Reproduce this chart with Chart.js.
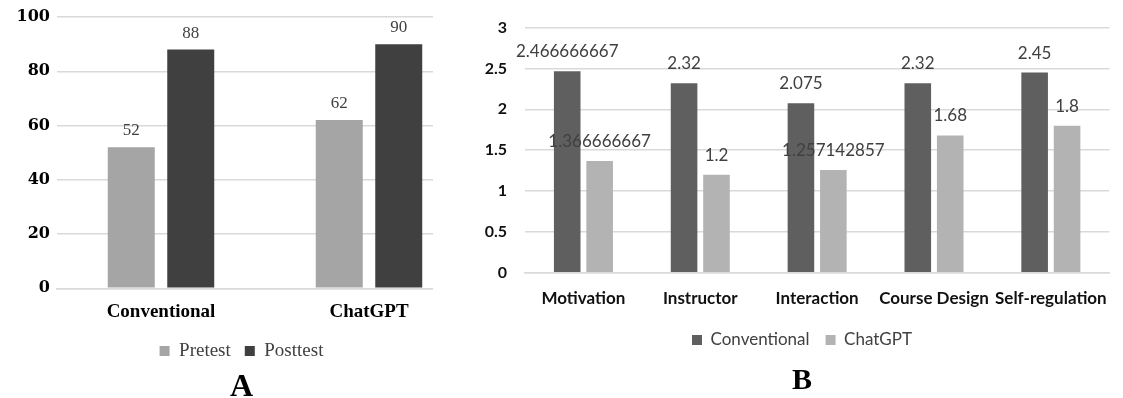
<!DOCTYPE html>
<html>
<head>
<meta charset="utf-8">
<script src="https://cdn.jsdelivr.net/npm/chart.js@4.4.0/dist/chart.umd.min.js"></script>
<style>
  html, body { margin: 0; padding: 0; background: #fff; }
  body { width: 1123px; height: 398px; position: relative; overflow: hidden; }
  #panelA { position: absolute; left: 0; top: 0; width: 499px; height: 398px; }
  #panelB { position: absolute; left: 433px; top: 0; width: 690px; height: 398px; background: #fff; }
</style>
</head>
<body>
<div id="panelA"><canvas id="chartA"></canvas></div>
<div id="panelB"><canvas id="chartB"></canvas></div>
<script>
// Panel A - pretest / posttest scores
const groupsA = ['Conventional', 'ChatGPT'];
const pretest = [52, 62];
const posttest = [88, 90];

// Panel B - mean score per dimension
const dimensions = ['Motivation', 'Instructor', 'Interaction', 'Course Design', 'Self-regulation'];
const conventional = [2.466666667, 2.32, 2.075, 2.32, 2.45];
const chatgpt = [1.366666667, 1.2, 1.257142857, 1.68, 1.8];

const gridGray = '#d9d9d9';

// draws the value above every bar
const valueLabels = {
    id: 'valueLabels',
    afterDatasetsDraw(chart, args, opts) {
        const ctx = chart.ctx;
        ctx.save();
        ctx.font = opts.font;
        ctx.fillStyle = opts.color;
        ctx.textAlign = 'center';
        ctx.textBaseline = 'alphabetic';
        chart.data.datasets.forEach((ds, i) => {
            chart.getDatasetMeta(i).data.forEach((bar, j) => {
                ctx.fillText(String(ds.data[j]), bar.x, bar.y - opts.offset);
            });
        });
        ctx.restore();
    }
};

new Chart(document.getElementById('chartA'), {
    type: 'bar',
    data: {
        labels: groupsA,
        datasets: [{
            label: 'Pretest',
            data: pretest,
            backgroundColor: '#a5a5a5',
            categoryPercentage: 0.572,
            barPercentage: 0.79
        }, {
            label: 'Posttest',
            data: posttest,
            backgroundColor: '#404040',
            categoryPercentage: 0.572,
            barPercentage: 0.79
        }]
    },
    plugins: [valueLabels],
    options: {
        responsive: true,
        maintainAspectRatio: false,
        animation: false,
        layout: { padding: { top: 17, left: 10, right: 26, bottom: 0 } },
        plugins: {
            tooltip: { enabled: false },
            valueLabels: { font: '17px "Liberation Serif"', color: '#404040', offset: 12 },
            legend: {
                position: 'bottom',
                labels: {
                    font: { family: 'Liberation Serif', size: 19 },
                    color: '#404040',
                    boxWidth: 10,
                    boxHeight: 10,
                    padding: 14
                }
            },
            title: {
                display: true,
                text: 'A',
                position: 'bottom',
                color: '#000',
                font: { family: 'Liberation Serif', size: 32, weight: 'bold', lineHeight: 0.656 },
                padding: { top: 6.5, bottom: 0 }
            }
        },
        scales: {
            x: {
                afterFit(scale) { scale.height = 39.2; },
                grid: { display: false, drawTicks: false },
                border: { color: gridGray, width: 1.5 },
                ticks: {
                    color: '#000',
                    font: { family: 'Liberation Serif', size: 19, weight: 'bold' },
                    padding: 12
                }
            },
            y: {
                min: 0,
                max: 100,
                afterFit(scale) { scale.width = 47; },
                grid: { color: gridGray, lineWidth: 1.5, drawTicks: false },
                border: { display: false },
                ticks: {
                    stepSize: 20,
                    padding: 7,
                    color: '#000',
                    font: { family: 'DejaVu Serif', size: 16, weight: 'bold' }
                }
            }
        }
    }
});

new Chart(document.getElementById('chartB'), {
    type: 'bar',
    data: {
        labels: dimensions,
        datasets: [{
            label: 'Conventional',
            data: conventional,
            backgroundColor: '#5f5f5f',
            categoryPercentage: 0.555,
            barPercentage: 0.82
        }, {
            label: 'ChatGPT',
            data: chatgpt,
            backgroundColor: '#b3b3b3',
            categoryPercentage: 0.555,
            barPercentage: 0.82
        }]
    },
    plugins: [valueLabels],
    options: {
        responsive: true,
        maintainAspectRatio: false,
        animation: false,
        layout: { padding: { top: 25, left: 51, right: 3, bottom: 0 } },
        plugins: {
            tooltip: { enabled: false },
            valueLabels: { font: '17px Lato', color: '#404040', offset: 14 },
            legend: {
                position: 'bottom',
                labels: {
                    font: { family: 'Lato', size: 17 },
                    color: '#404040',
                    boxWidth: 10,
                    boxHeight: 10,
                    padding: 16
                }
            },
            title: {
                display: true,
                text: 'B',
                position: 'bottom',
                color: '#000',
                font: { family: 'Liberation Serif', size: 30, weight: 'bold', lineHeight: 1.107 },
                padding: { top: 6.3, bottom: 0 }
            }
        },
        scales: {
            x: {
                afterFit(scale) { scale.height = 42.8; },
                grid: { display: false, drawTicks: false },
                border: { color: gridGray, width: 1.5 },
                ticks: {
                    color: '#111',
                    autoSkip: false,
                    maxRotation: 0,
                    font: { family: 'Lato', size: 17, weight: 'bold' },
                    padding: 16
                }
            },
            y: {
                min: 0,
                max: 3,
                afterFit(scale) { scale.width = 41; },
                grid: { color: gridGray, lineWidth: 1.5, drawTicks: false },
                border: { display: false },
                ticks: {
                    stepSize: 0.5,
                    padding: 18,
                    color: '#111',
                    font: { family: 'Lato', size: 16, weight: 'bold' },
                    callback: v => String(v)
                }
            }
        }
    }
});
</script>
</body>
</html>
